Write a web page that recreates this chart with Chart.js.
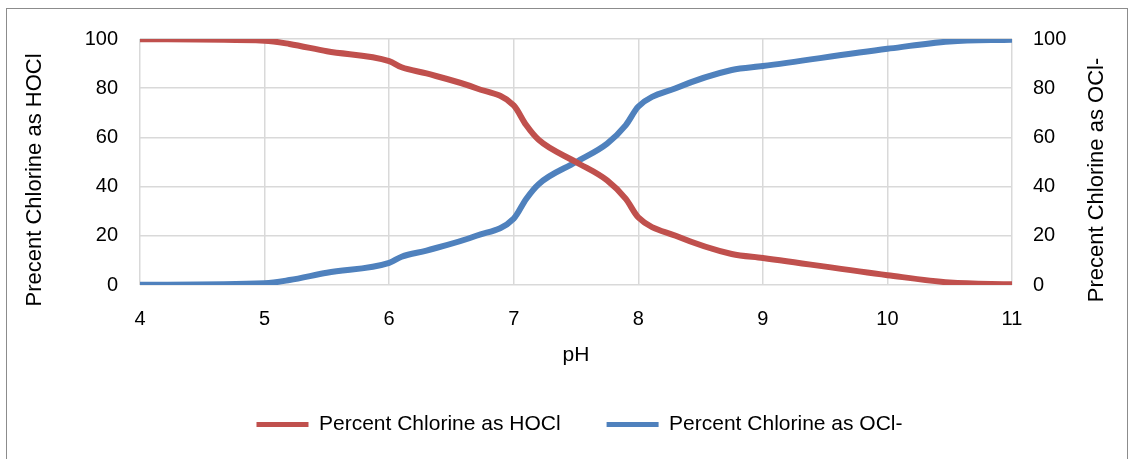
<!DOCTYPE html>
<html>
<head>
<meta charset="utf-8">
<script src="https://cdn.jsdelivr.net/npm/chart.js@4"></script>
<style>
  html, body { margin: 0; padding: 0; background: #fff; }
  #wrap { position: relative; width: 1133px; height: 459px; overflow: hidden; }
  #frame { position: absolute; left: 6px; top: 8px; width: 1120px; height: 470px; border: 1px solid #8c8c8c; }
  canvas { position: absolute; left: 0; top: 0; }
</style>
</head>
<body>
<div id="wrap">
  <div id="frame"></div>
  <canvas id="chlorineChart" width="1133" height="459"></canvas>
</div>
<script>
/* ================= DATA ================= */
const phValues = [4, 5, 5.2, 5.5, 6, 6.1, 6.3, 6.7, 7, 7.1, 7.2, 7.5, 7.75, 7.9, 8, 8.3, 8.75, 9, 10, 10.5, 11];
const hoclPercent = [99.9, 99.3, 98, 95, 91, 88.5, 86, 80, 73, 65, 59, 50, 42.5, 35, 27.5, 20, 12.6, 11, 4, 1, 0.3];
const ocliPercent = [0.1, 0.7, 2, 5, 9, 11.5, 14, 20, 27, 35, 41, 50, 57.5, 65, 72.5, 80, 87.4, 89, 96, 99, 99.7];
const xTicks = [4, 5, 6, 7, 8, 9, 10, 11];
const yTicks = [0, 20, 40, 60, 80, 100];
const seriesNames = ["Percent Chlorine as HOCl", "Percent Chlorine as OCl-"];
const leftTitle = "Precent Chlorine as HOCl";
const rightTitle = "Precent Chlorine as OCl-";

const RED = "#C0504D";
const BLUE = "#4F81BD";
const FONT = "'Liberation Sans', Arial, sans-serif";

const toPoints = (xs, ys) => xs.map((x, i) => ({ x, y: ys[i] }));

/* ================= SIDE TITLES (both read bottom to top) ================= */
const sideTitles = {
    id: "sideTitles",
    afterLayout(chart) {
        // legend in the original sits a bit right of centre
        chart.legend.left += 13;
        chart.legend.right += 13;
    },
    afterDraw(chart) {
        const { ctx, chartArea } = chart;
        const midY = (chartArea.top + chartArea.bottom) / 2 + 18;
        const items = [
            { text: leftTitle, x: 35 },
            { text: rightTitle, x: chart.width - 36 }
        ];
        ctx.save();
        ctx.fillStyle = "#000";
        ctx.font = "22px " + FONT;
        ctx.textAlign = "center";
        ctx.textBaseline = "middle";
        items.forEach(t => {
            ctx.save();
            ctx.translate(t.x, midY);
            ctx.rotate(-Math.PI / 2);
            ctx.fillText(t.text, 0, 0);
            ctx.restore();
        });
        ctx.restore();
    }
};

/* ================= CHART ================= */
const ctx = document.getElementById("chlorineChart");

new Chart(ctx, {
    type: "line",
    data: {
        datasets: [
            {
                label: seriesNames[0],
                data: toPoints(phValues, hoclPercent),
                borderColor: RED,
                backgroundColor: RED,
                borderWidth: 6,
                pointRadius: 0,
                cubicInterpolationMode: "monotone",
                yAxisID: "y"
            },
            {
                label: seriesNames[1],
                data: toPoints(phValues, ocliPercent),
                borderColor: BLUE,
                backgroundColor: BLUE,
                borderWidth: 6,
                pointRadius: 0,
                cubicInterpolationMode: "monotone",
                yAxisID: "y2"
            }
        ]
    },
    plugins: [sideTitles],
    options: {
        responsive: false,
        animation: false,
        layout: { padding: { top: 39, bottom: 14, left: 0, right: 0 } },
        plugins: {
            tooltip: { enabled: false },
            legend: {
                position: "bottom",
                labels: {
                    boxWidth: 52,
                    boxHeight: 5,
                    color: "#000",
                    padding: 46,
                    font: { family: FONT, size: 21 },
                    generateLabels: chart =>
                        Chart.defaults.plugins.legend.labels.generateLabels(chart)
                            .map(item => ({ ...item, lineWidth: 0 }))
                }
            }
        },
        scales: {
            x: {
                type: "linear",
                min: 4,
                max: 11,
                afterBuildTicks: axis => { axis.ticks = xTicks.map(v => ({ value: v })); },
                afterFit: axis => { axis.height = 83; },
                grid: { color: "#d9d9d9", lineWidth: 1.5, drawTicks: false },
                border: { display: false },
                ticks: { color: "#000", padding: 22, font: { family: FONT, size: 20 } },
                title: {
                    display: true,
                    text: "pH",
                    color: "#000",
                    padding: { top: -4, bottom: 0 },
                    font: { family: FONT, size: 21 }
                }
            },
            y: {
                position: "left",
                min: 0,
                max: 100,
                afterBuildTicks: axis => { axis.ticks = yTicks.map(v => ({ value: v })); },
                afterFit: axis => { axis.width = 140; },
                grid: { color: "#d9d9d9", lineWidth: 1.5, drawTicks: false },
                border: { display: false },
                ticks: { color: "#000", padding: 22, font: { family: FONT, size: 20 } }
            },
            y2: {
                position: "right",
                min: 0,
                max: 100,
                afterBuildTicks: axis => { axis.ticks = yTicks.map(v => ({ value: v })); },
                afterFit: axis => { axis.width = 121; },
                grid: { display: false, drawTicks: false },
                border: { display: false },
                ticks: { color: "#000", padding: 21, font: { family: FONT, size: 20 } }
            }
        }
    }
});
</script>
</body>
</html>
